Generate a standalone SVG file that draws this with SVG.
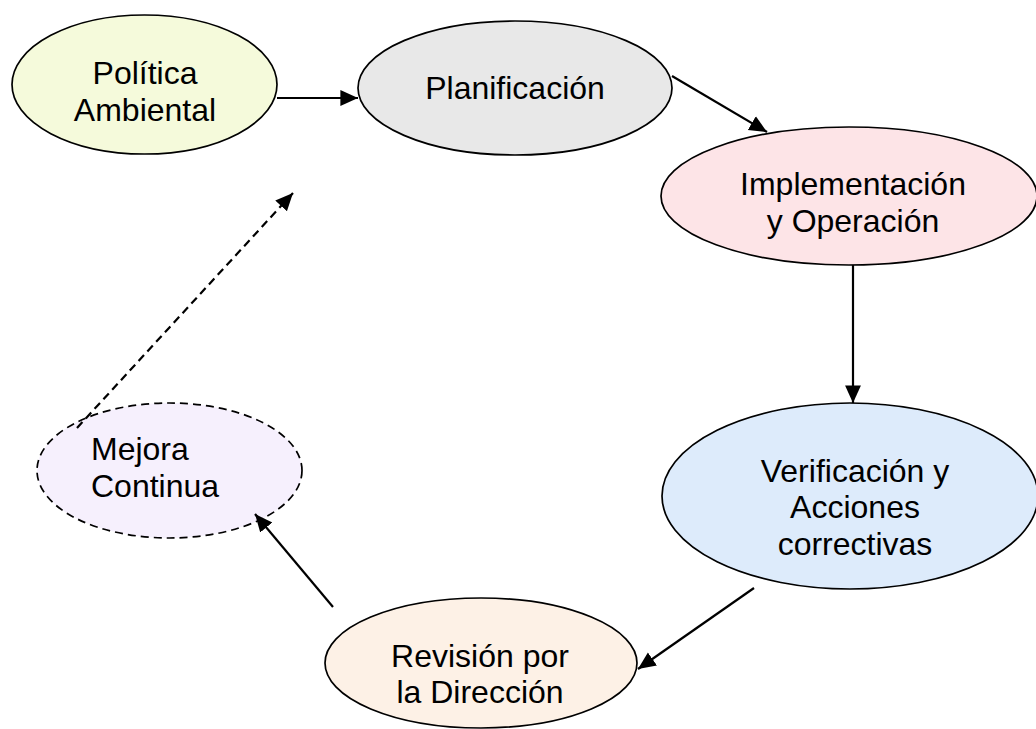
<svg xmlns="http://www.w3.org/2000/svg" width="1036" height="729" viewBox="0 0 1036 729">
  <defs>
    <marker id="arrow" viewBox="0 0 10 10" refX="10" refY="5" markerWidth="8" markerHeight="8" markerUnits="strokeWidth" orient="auto">
      <path d="M0,0.5 L10,5 L0,9.5 z" fill="#000"/>
    </marker>
    <style>
      .node ellipse { stroke: #000; stroke-width: 1.7; }
      .node text { font-family: "Liberation Sans", Arial, sans-serif; font-size: 32px; fill: #000; }
      .mid { text-anchor: middle; }
      .dashed { stroke-dasharray: 8 5; }
      .edge { stroke: #000; stroke-width: 2.2; fill: none; marker-end: url(#arrow); }
    </style>
  </defs>
  <rect width="1036" height="729" fill="#fff"/>

  <g id="politica" class="node">
    <ellipse cx="144.5" cy="84.5" rx="132.5" ry="69.5" fill="#F5FADB"/>
    <text class="mid" x="145" y="84">Política</text>
    <text class="mid" x="145" y="121">Ambiental</text>
  </g>

  <g id="planificacion" class="node">
    <ellipse cx="515" cy="88" rx="157" ry="67" fill="#E8E8E8"/>
    <text class="mid" x="515" y="99">Planificación</text>
  </g>

  <g id="implementacion" class="node">
    <ellipse cx="849" cy="196" rx="188" ry="69" fill="#FDE4E7"/>
    <text class="mid" x="853" y="195">Implementación</text>
    <text class="mid" x="853" y="232">y Operación</text>
  </g>

  <g id="verificacion" class="node">
    <ellipse cx="850" cy="496" rx="188" ry="93" fill="#DDEBFB"/>
    <text class="mid" x="855" y="482">Verificación y</text>
    <text class="mid" x="855" y="518">Acciones</text>
    <text class="mid" x="855" y="555">correctivas</text>
  </g>

  <g id="revision" class="node">
    <ellipse cx="481" cy="663" rx="156" ry="65" fill="#FDF1E6"/>
    <text class="mid" x="480" y="667">Revisión por</text>
    <text class="mid" x="480" y="703">la Dirección</text>
  </g>

  <g id="mejora" class="node">
    <ellipse class="dashed" cx="169.5" cy="470.5" rx="132.5" ry="67.5" fill="#F6F0FD"/>
    <text x="91" y="460">Mejora</text>
    <text x="91" y="497">Continua</text>
  </g>

  <!-- connectors drawn last so the dashed feedback line shows over the ellipse rim -->
  <g id="connectors">
    <line class="edge" x1="277" y1="98" x2="358" y2="98"/>
    <line class="edge" x1="672" y1="76" x2="767" y2="132"/>
    <line class="edge" x1="853" y1="265" x2="853" y2="403"/>
    <line class="edge" x1="754" y1="588" x2="638" y2="669"/>
    <line class="edge" x1="333" y1="607" x2="255" y2="514"/>
    <line class="edge dashed" x1="77" y1="428" x2="293" y2="193"/>
  </g>
</svg>
